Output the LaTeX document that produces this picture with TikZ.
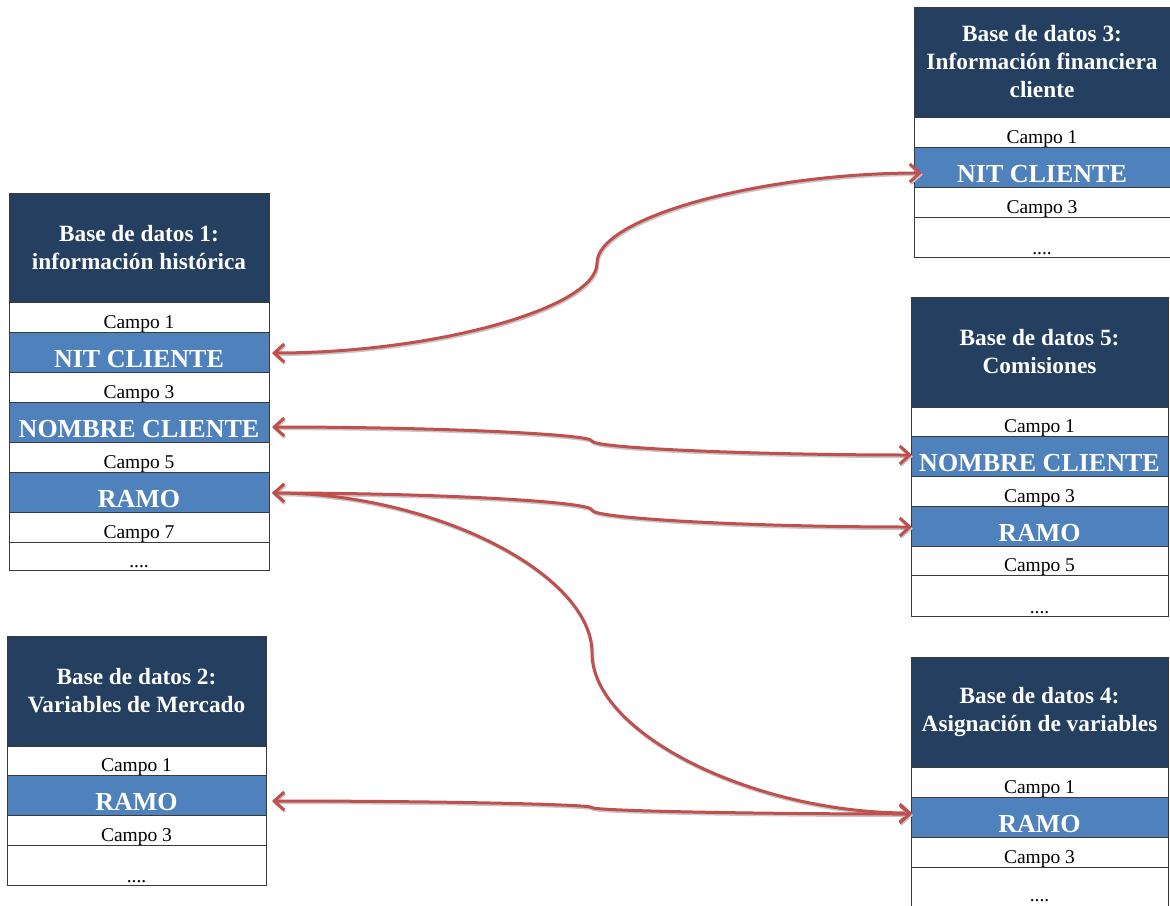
\documentclass[tikz,border=0pt]{standalone}
\usepackage{fontspec}
\newfontfamily\tnr{Liberation Serif}
\usetikzlibrary{arrows.meta,calc}
\definecolor{hdrblue}{HTML}{243F60}
\definecolor{keyblue}{HTML}{4F81BD}
\definecolor{arrred}{HTML}{C0504D}
\definecolor{gridline}{HTML}{3A3A3A}
\begin{document}
\begin{tikzpicture}[x=1pt,y=-1pt,
 cell/.style={draw=gridline, line width=0.8pt, inner sep=0pt, outer sep=0pt, anchor=north west},
 hdr/.style={cell, fill=hdrblue, text=white, align=center, font=\tnr\bfseries\fontsize{23.3}{28}\selectfont, minimum height=110pt},
 wrow/.style={cell, fill=white, font=\tnr\fontsize{19.5}{22}\selectfont, minimum height=30pt, text height=26pt, text depth=4pt},
 krow/.style={cell, fill=keyblue, text=white, font=\tnr\bfseries\fontsize{26}{30}\selectfont, minimum height=40pt, text height=35pt, text depth=5pt},
 lrow/.style={wrow, minimum height=40pt, text height=37pt, text depth=3pt},
 curveconn/.style={to path={let \p1=(\tikztostart), \p2=(\tikztotarget) in
   .. controls ({(3*\x1+\x2)/4},\y1) and ({(\x1+\x2)/2},{(3*\y1+\y2)/4}) .. ({(\x1+\x2)/2},{(\y1+\y2)/2})
   .. controls ({(\x1+\x2)/2},{(\y1+3*\y2)/4}) and ({(\x1+3*\x2)/4},\y2) .. (\x2,\y2)}},
 conn/.style={draw=arrred, line width=3pt, line cap=round, line join=round,
   {Straight Barb[length=10pt,width=18pt]}-{Straight Barb[length=10pt,width=18pt]}, curveconn,
   preaction={draw=black!22, line width=3pt, transform canvas={xshift=0.8pt,yshift=-1.6pt}}}
]
\useasboundingbox (0,0) rectangle (1170,905);

% Table 1
\begin{scope}[nodes={minimum width=260pt}]
\node[hdr, minimum height=109pt] (t1h) at (9,193) {Base de datos 1:\\información histórica};
\node[wrow] (t1c1) at (t1h.south west) {Campo 1};
\node[krow] (t1nit) at (t1c1.south west) {NIT CLIENTE};
\node[wrow] (t1c3) at (t1nit.south west) {Campo 3};
\node[krow] (t1nom) at (t1c3.south west) {NOMBRE CLIENTE};
\node[wrow] (t1c5) at (t1nom.south west) {Campo 5};
\node[krow] (t1ramo) at (t1c5.south west) {RAMO};
\node[wrow] (t1c7) at (t1ramo.south west) {Campo 7};
\node[lrow, minimum height=28pt, text height=25pt] (t1end) at (t1c7.south west) {....};
\end{scope}

% Table 2
\begin{scope}[nodes={minimum width=259pt}]
\node[hdr] (t2h) at (7,636) {Base de datos 2:\\Variables de Mercado};
\node[wrow, minimum height=29pt, text height=25pt] (t2c1) at (t2h.south west) {Campo 1};
\node[krow] (t2ramo) at (t2c1.south west) {RAMO};
\node[wrow] (t2c3) at (t2ramo.south west) {Campo 3};
\node[lrow] (t2end) at (t2c3.south west) {....};
\end{scope}

% Table 3
\begin{scope}[nodes={minimum width=256pt}]
\node[hdr] (t3h) at (914,7) {Base de datos 3:\\Información financiera\\cliente};
\node[wrow] (t3c1) at (t3h.south west) {Campo 1};
\node[krow] (t3nit) at (t3c1.south west) {NIT CLIENTE};
\node[wrow] (t3c3) at (t3nit.south west) {Campo 3};
\node[lrow] (t3end) at (t3c3.south west) {....};
\end{scope}

% Table 5
\begin{scope}[nodes={minimum width=257pt}]
\node[hdr] (t5h) at (911,297) {Base de datos 5:\\Comisiones};
\node[wrow, minimum height=29pt, text height=25pt] (t5c1) at (t5h.south west) {Campo 1};
\node[krow] (t5nom) at (t5c1.south west) {NOMBRE CLIENTE};
\node[wrow] (t5c3) at (t5nom.south west) {Campo 3};
\node[krow] (t5ramo) at (t5c3.south west) {RAMO};
\node[wrow, minimum height=29pt, text height=25pt] (t5c5) at (t5ramo.south west) {Campo 5};
\node[lrow, minimum height=41pt, text height=38pt] (t5end) at (t5c5.south west) {....};
\end{scope}

% Table 4
\begin{scope}[nodes={minimum width=257pt}]
\node[hdr] (t4h) at (911,657) {Base de datos 4:\\Asignación de variables};
\node[wrow] (t4c1) at (t4h.south west) {Campo 1};
\node[krow] (t4ramo) at (t4c1.south west) {RAMO};
\node[wrow] (t4c3) at (t4ramo.south west) {Campo 3};
\node[lrow, text height=34pt, text depth=6pt] (t4end) at (t4c3.south west) {....};
\end{scope}

% Connectors
\draw[conn] ([xshift=3pt,yshift=-1pt]t1nit.east) to ([xshift=8pt,yshift=-6pt]t3nit.west);
\draw[conn] ([xshift=3pt,yshift=-5pt]t1nom.east) to ([xshift=1pt,yshift=1pt]t5nom.west);
\draw[conn] ([xshift=3pt,yshift=-1pt]t1ramo.east) to ([xshift=1pt,yshift=-1pt]t5ramo.west);
\draw[conn] ([xshift=3pt,yshift=-1pt]t1ramo.east) to ([xshift=1pt,yshift=4pt]t4ramo.west);
\draw[conn] ([xshift=6pt,yshift=-6pt]t2ramo.east) to ([xshift=1pt,yshift=3pt]t4ramo.west);
\end{tikzpicture}
\end{document}
